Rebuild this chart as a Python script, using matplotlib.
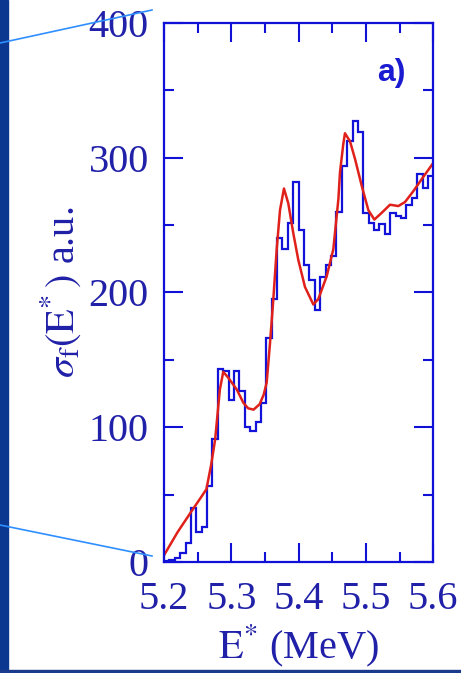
import numpy as np
import matplotlib
matplotlib.use("Agg")
import matplotlib.pyplot as plt
from matplotlib.lines import Line2D
from matplotlib.patches import Rectangle
from matplotlib.ticker import MultipleLocator

# histogram: 50 bins of 8 keV between 5.2 and 5.6 MeV
bin_start = 5.2
bin_width = 0.008
sigma_hist = [0.5, 1.5, 3, 6.5, 14, 40, 22, 26, 56, 91,
              143, 142, 120, 142, 127, 100, 97, 103.5, 118, 166,
              195, 240.5, 232, 251.5, 281.5, 246.5, 220.5, 209.5, 187, 211.5,
              220.5, 227, 259.5, 293.5, 312, 327, 319, 259, 251.5, 246.5,
              251, 243, 259, 256.5, 255, 264.5, 270, 287.5, 277.5, 286]

# smooth calculation (red curve)
e_fit = [5.200, 5.220, 5.240, 5.255, 5.263, 5.270, 5.276, 5.283, 5.288, 5.295,
         5.308, 5.318, 5.325, 5.333, 5.342, 5.348, 5.3525, 5.3574, 5.3624, 5.3674,
         5.3723, 5.3782, 5.3846, 5.392, 5.3995, 5.4094, 5.4218, 5.4292, 5.4417, 5.4515,
         5.459, 5.4614, 5.4663, 5.4688, 5.4763, 5.4837, 5.4937, 5.5035, 5.5124, 5.5234,
         5.5357, 5.548, 5.558, 5.5703, 5.5828, 5.600]
sigma_fit = [5, 22, 37, 48, 54, 72, 91, 128, 141, 137,
             128, 118, 114, 113, 117, 124, 133, 162, 195, 232,
             261, 277, 266, 244, 224, 204, 191, 195, 212, 232,
             269, 289, 310, 318, 312, 299, 279, 261, 254, 259,
             265, 264, 267, 275, 284, 296]

x_ticks = [5.2, 5.3, 5.4, 5.5, 5.6]
y_ticks = [0, 100, 200, 300, 400]

edges = bin_start + bin_width * np.arange(len(sigma_hist) + 1)

plt.rcParams["mathtext.fontset"] = "stix"
plt.rcParams["font.family"] = ["Liberation Serif", "DejaVu Serif"]

axis_col = "#1010d6"
text_col = "#2020a8"

fig = plt.figure(figsize=(4.61, 6.73), dpi=100)
W, H = 461, 673

# slide decoration: dark blue strip on the left and bottom, light blue pointer lines
fig.patches.append(Rectangle((0, 0), 8 / W, 1, transform=fig.transFigure,
                             color="#0c3790", zorder=0))
fig.patches.append(Rectangle((0, 0), 1, 3 / H, transform=fig.transFigure,
                             color="#1a3a8c", zorder=0))
fig.lines.append(Line2D([0, 152 / W], [1 - 43 / H, 1 - 10 / H], transform=fig.transFigure,
                        color="#2f8fff", lw=1.2))
fig.lines.append(Line2D([0, 152 / W], [1 - 525 / H, 1 - 556 / H], transform=fig.transFigure,
                        color="#2f8fff", lw=1.2))

ax = fig.add_axes([164 / W, 1 - 562 / H, 269.3 / W, 539.3 / H])

ax.stairs(sigma_hist, edges, baseline=None, color="#1212d8", lw=1.6)
ax.plot(e_fit, sigma_fit, color="#e0201a", lw=1.8)

ax.set_xlim(5.2, 5.6)
ax.set_ylim(0, 400)
ax.set_xticks(x_ticks)
ax.set_xticklabels([f"{v:.1f}" for v in x_ticks])
ax.set_yticks(y_ticks)
ax.xaxis.set_minor_locator(MultipleLocator(0.05))
ax.yaxis.set_minor_locator(MultipleLocator(50))

for s in ax.spines.values():
    s.set_color(axis_col)
    s.set_linewidth(1.6)
ax.tick_params(which="both", direction="in", top=True, right=True,
               color=axis_col, width=1.5, labelcolor=text_col, labelsize=29)
ax.tick_params(which="major", length=14)
ax.tick_params(which="minor", length=7)
ax.tick_params(axis="y", pad=11)
ax.tick_params(axis="x", pad=14)

ax.set_ylabel(r"$\sigma_{\mathrm{f}}(\mathrm{E}^{*}\,)$ a.u.", fontsize=29, color=text_col)
ax.yaxis.set_label_coords(-0.30, 0.5)
ax.set_xlabel(r"$\mathrm{E}^{*}$ (MeV)", fontsize=29, color=text_col)
ax.xaxis.set_label_coords(0.5, -0.112)

ax.text(0.845, 0.907, "a)", transform=ax.transAxes, ha="center", va="center",
        fontsize=23, fontweight="bold", color="#1a1ad0", family="Liberation Sans")

fig.savefig("out.png", dpi=100)
